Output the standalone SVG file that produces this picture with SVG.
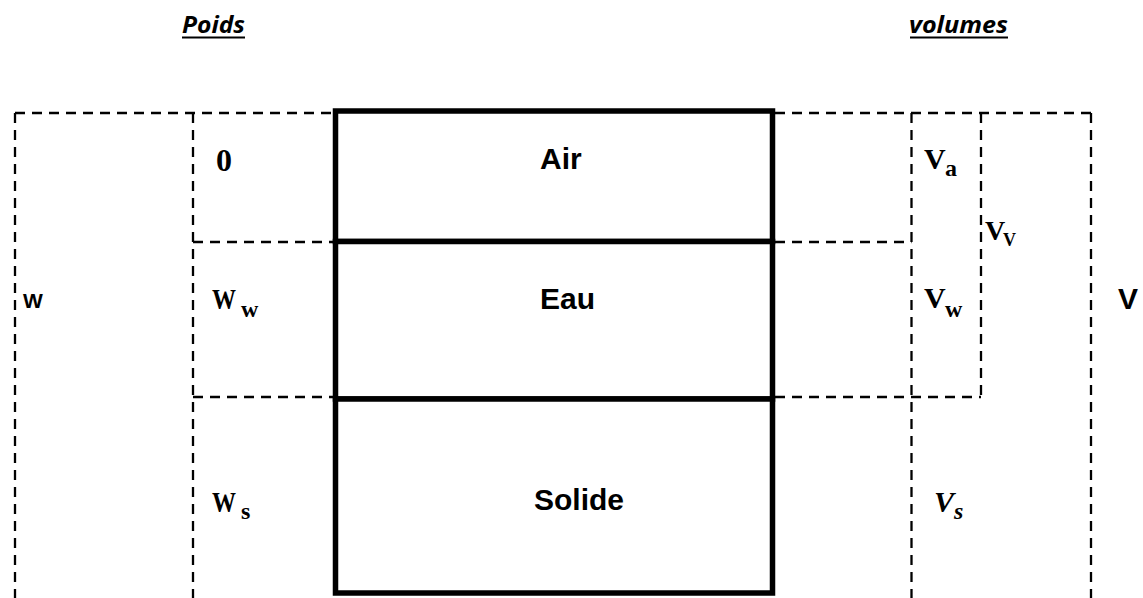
<svg xmlns="http://www.w3.org/2000/svg" width="1143" height="598" viewBox="0 0 1143 598">
  <style>
    .phase { fill: #fff; stroke: #000; stroke-width: 5.5; }
    .dash { fill: none; stroke: #000; stroke-width: 2.3; stroke-dasharray: 10 7; }
    .head { font-family: "Open Sans", "Liberation Sans", sans-serif; font-weight: bold; font-style: italic; font-size: 24px; fill: #000; }
    .uline { stroke: #000; stroke-width: 2; }
    .lbl { font-family: "Liberation Sans", Arial, sans-serif; font-weight: bold; font-size: 30px; fill: #000; }
    .m { font-family: "Liberation Serif", "Times New Roman", serif; font-weight: bold; font-size: 30px; fill: #000; }
    .sub { font-family: "Liberation Serif", "Times New Roman", serif; font-weight: bold; font-size: 24px; fill: #000; }
  </style>

  <!-- column headings -->
  <g id="heading-poids">
    <text class="head" x="182" y="33" textLength="63" lengthAdjust="spacingAndGlyphs">Poids</text>
    <line class="uline" x1="182" y1="37.5" x2="245" y2="37.5"/>
  </g>
  <g id="heading-volumes">
    <text class="head" x="909" y="33" textLength="99" lengthAdjust="spacingAndGlyphs">volumes</text>
    <line class="uline" x1="910" y1="37.5" x2="1008" y2="37.5"/>
  </g>

  <!-- dashed brackets for weights and volumes -->
  <g id="connectors">
    <!-- weights side -->
    <path class="dash" d="M15 113 H333"/>
    <path class="dash" d="M15 113 V598"/>
    <path class="dash" d="M193 113 V598"/>
    <path class="dash" d="M193 242 H333"/>
    <path class="dash" d="M193 397 H333"/>
    <!-- volumes side -->
    <path class="dash" d="M775 113 H1091"/>
    <path class="dash" d="M911.5 113 V598"/>
    <path class="dash" d="M981 113 V397"/>
    <path class="dash" d="M1091 113 V598"/>
    <path class="dash" d="M775 242 H911.5"/>
    <path class="dash" d="M775 397 H981"/>
  </g>

  <!-- soil phases -->
  <g id="air">
    <rect class="phase" x="335.5" y="111" width="437" height="130.5"/>
    <text class="lbl" x="540" y="169">Air</text>
  </g>
  <g id="eau">
    <rect class="phase" x="335.5" y="241.5" width="437" height="157.5"/>
    <text class="lbl" x="540" y="309">Eau</text>
  </g>
  <g id="solide">
    <rect class="phase" x="335.5" y="399" width="437" height="194"/>
    <text class="lbl" x="534" y="510">Solide</text>
  </g>

  <!-- weight labels -->
  <g id="w-total">
    <text class="lbl" x="23" y="308" style="font-size:21px">W</text>
  </g>
  <g id="w-air">
    <text class="m" x="216" y="171" style="font-size:32px">0</text>
  </g>
  <g id="w-eau">
    <text class="m" x="212" y="309" textLength="24" lengthAdjust="spacingAndGlyphs">W</text>
    <text class="sub" x="241" y="317">w</text>
  </g>
  <g id="w-solide">
    <text class="m" x="212" y="512" textLength="24" lengthAdjust="spacingAndGlyphs">W</text>
    <text class="sub" x="241" y="519">s</text>
  </g>

  <!-- volume labels -->
  <g id="v-air">
    <text class="m" x="924" y="169">V</text>
    <text class="sub" x="945" y="176">a</text>
  </g>
  <g id="v-vides">
    <text class="m" x="985" y="240" style="font-size:28px">V</text>
    <text class="sub" x="1003" y="246" style="font-size:18px">V</text>
  </g>
  <g id="v-eau">
    <text class="m" x="924" y="308">V</text>
    <text class="sub" x="945" y="317">w</text>
  </g>
  <g id="v-solide">
    <text class="m" x="934" y="512" style="font-style:italic">V</text>
    <text class="sub" x="954" y="519" style="font-style:italic">s</text>
  </g>
  <g id="v-total">
    <text class="lbl" x="1118" y="309">V</text>
  </g>
</svg>
